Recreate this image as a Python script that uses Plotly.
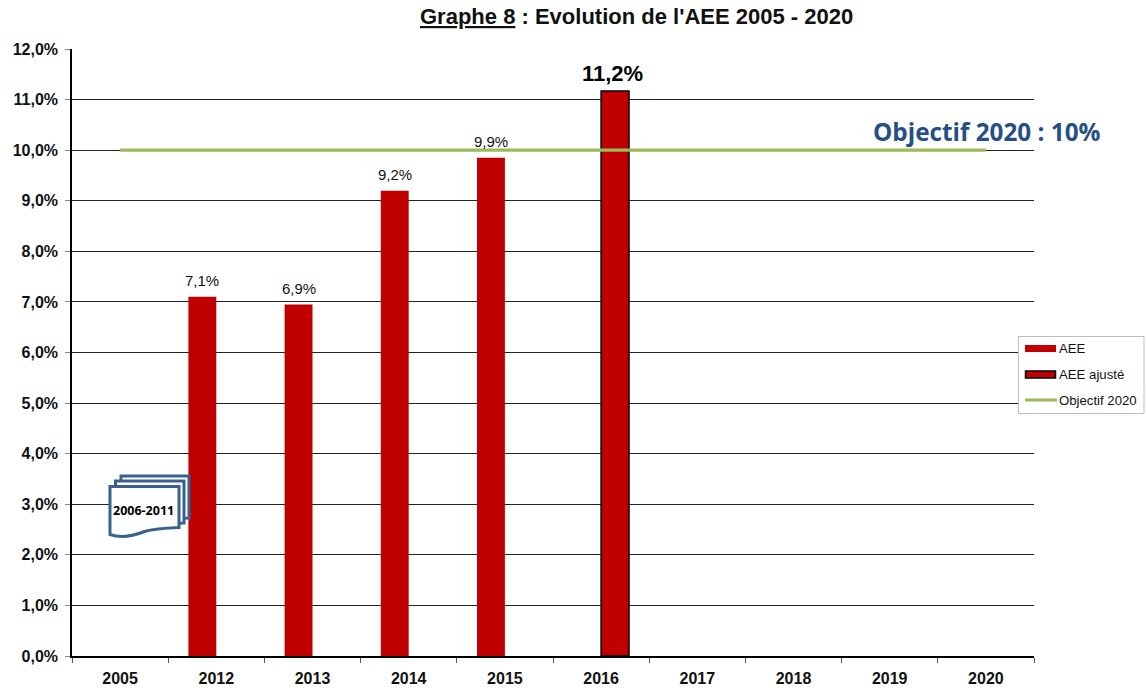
import plotly.graph_objects as go

categories = ["2005", "2012", "2013", "2014", "2015", "2016", "2017", "2018", "2019", "2020"]
aee_values = [None, 7.1, 6.95, 9.2, 9.85, None, None, None, None, None]
aee_labels = [None, "7,1%", "6,9%", "9,2%", "9,9%", None, None, None, None, None]
adj_values = [None, None, None, None, None, 11.17, None, None, None, None]
adj_labels = [None, None, None, None, None, "<b>11,2%</b>", None, None, None, None]
target_values = [10] * len(categories)
title = "<b><u>Graphe 8</u> : Evolution de l'AEE 2005 - 2020</b>"

W, H = 1147, 688
L, R, T, B = 72, 1034, 49, 656
FONT = "Liberation Sans"
px = lambda x: (x - L) / (R - L)
py = lambda y: (B - y) / (B - T)

fig = go.Figure()
fig.add_bar(x=categories, y=aee_values, name="AEE", offsetgroup="a", marker=dict(color="#C00000", line=dict(width=0)))
fig.add_bar(x=categories, y=adj_values, name="AEE ajusté", offsetgroup="b",
            marker=dict(color="#C00000", line=dict(color="black", width=1.5)))
fig.add_scatter(x=categories, y=target_values, mode="lines", name="Objectif 2020",
                line=dict(color="#9BBB59", width=3.2))

shapes, annotations = [], []

# value labels
for i, (yv, txt) in enumerate(zip(aee_values, aee_labels)):
    if yv is not None:
        annotations.append(dict(xref="x", yref="y", x=i, y=yv, text=txt, showarrow=False, yshift=16, xshift=-14,
                                yanchor="middle", xanchor="center",
                                font=dict(size=15, family=FONT, color="#111")))
for i, (yv, txt) in enumerate(zip(adj_values, adj_labels)):
    if yv is not None:
        annotations.append(dict(xref="x", yref="y", x=i, y=yv, text=txt, showarrow=False, yshift=17, xshift=11,
                                yanchor="middle", xanchor="center",
                                font=dict(size=22, family=FONT, color="black")))

def rect(x0, y0, x1, y1, fill, line=None, lw=0):
    shapes.append(dict(type="rect", xref="paper", yref="paper", x0=px(x0), x1=px(x1), y0=py(y1), y1=py(y0),
                       fillcolor=fill, line=dict(color=line or fill, width=lw), layer="above"))

# legend
rect(1018.5, 336.5, 1144, 413.5, "white", "#BDBDBD", 1)
rect(1025, 345, 1056, 352, "#C00000")
rect(1025.5, 371, 1055.5, 378, "#C00000", "black", 1.5)
shapes.append(dict(type="line", xref="paper", yref="paper", x0=px(1025), x1=px(1057), y0=py(400), y1=py(400),
                   line=dict(color="#9BBB59", width=3), layer="above"))
for txt, y in [("AEE", 348), ("AEE ajusté", 374.5), ("Objectif 2020", 400)]:
    annotations.append(dict(xref="paper", yref="paper", x=px(1057), y=py(y), text=txt, showarrow=False,
                            xanchor="left", yanchor="middle",
                            font=dict(size=13.2, family=FONT, color="#111")))

# "2006-2011" stacked document icon
blue = "#3A6090"
def doc(x0, y0, x1, y1):
    p = lambda x, y: f"{px(x):.5f},{py(y):.5f}"
    xm = (x0 + x1) / 2
    return ("M" + p(x0, y0) + " L" + p(x1, y0) + " L" + p(x1, y1) +
            " Q" + p(xm + 10, y1 + 1) + " " + p(xm, y1 + 4) +
            " Q" + p(x0 + 15, y1 + 12) + " " + p(x0, y1 + 7) + " Z")
for box in [(121, 476, 189, 518), (115.5, 481, 184, 523), (110, 486.5, 179, 527.5)]:
    shapes.append(dict(type="path", xref="paper", yref="paper", path=doc(*box), fillcolor="white",
                       line=dict(color=blue, width=3), layer="above"))
annotations.append(dict(xref="paper", yref="paper", x=px(143), y=py(510), text="<b>2006-2011</b>", showarrow=False,
                        xanchor="center", yanchor="middle",
                        font=dict(size=12.5, family="Open Sans", color="black")))
annotations.append(dict(xref="paper", yref="paper", x=px(987), y=py(131.5), text="<b>Objectif 2020 : 10%</b>",
                        showarrow=False, xanchor="center", yanchor="middle",
                        font=dict(size=24.3, family="Open Sans", color="#264F86")))
annotations.append(dict(xref="paper", yref="paper", x=px(636), y=py(16), text=title, showarrow=False,
                        xanchor="center", yanchor="middle",
                        font=dict(size=22, family=FONT, color="#111")))

fig.update_layout(
    width=W, height=H, margin=dict(l=L, r=W - R, t=T, b=H - B, pad=0, autoexpand=False),
    plot_bgcolor="white", paper_bgcolor="white", showlegend=False,
    barmode="group", bargap=0.42, separators=", ",
    shapes=shapes, annotations=annotations,
    xaxis=dict(type="category", categoryorder="array", categoryarray=categories, tickson="boundaries", automargin=False,
               range=[-0.5, 9.5], ticks="outside", ticklen=5, tickcolor="#555", tickwidth=1, ticklabelstandoff=7,
               showline=True, linecolor="black", linewidth=1.5, showgrid=False,
               tickfont=dict(size=16, family=FONT, color="#111", weight="bold")),
    yaxis=dict(range=[0, 12], dtick=1, tickformat=".1f", ticksuffix="%", ticks="outside", ticklen=5, automargin=False,
               tickcolor="#888", tickwidth=1, showline=True, linecolor="black", linewidth=1.5, ticklabelstandoff=4,
               showgrid=True, gridcolor="#222", gridwidth=1, zeroline=False,
               tickfont=dict(size=16, family=FONT, color="#111", weight="bold")),
)
fig.write_html("out.html", config={"displayModeBar": False}, post_script="document.body.style.margin='0';")
